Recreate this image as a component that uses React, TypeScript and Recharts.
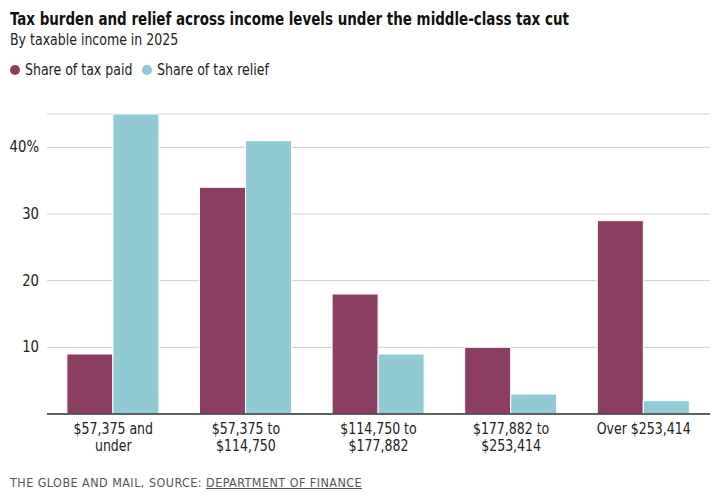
import React from "react";
import { BarChart, Bar, XAxis, YAxis, CartesianGrid } from "recharts";

const categories = [
  "$57,375 and\nunder",
  "$57,375 to\n$114,750",
  "$114,750 to\n$177,882",
  "$177,882 to\n$253,414",
  "Over $253,414",
];
const taxPaid = [9, 34, 18, 10, 29];
const taxRelief = [45, 41, 9, 3, 2];
const yTicks = [10, 20, 30, 40];

const PAID = "#8b3e62";
const RELIEF = "#90cad4";
const FONT = "'DejaVu Sans Condensed', 'Roboto', sans-serif";

const data = categories.map((c, i) => ({ name: c, paid: taxPaid[i], relief: taxRelief[i] }));

const XTick = (props: any) => {
  const { x, y, payload } = props;
  const lines = String(payload.value).split("\n");
  return (
    <g transform={`translate(${x},${y}) scale(0.9,1)`}>
      {lines.map((l: string, i: number) => (
        <text key={i} x={0} y={12 + i * 17} textAnchor="middle" fill="#222" fontSize={15.5} fontFamily={FONT}>
          {l}
        </text>
      ))}
    </g>
  );
};

const YTick = (props: any) => {
  const { x, y, payload } = props;
  return (
    <g transform={`translate(${x},${y}) scale(0.95,1)`}>
      <text x={0} y={0} dy={5} textAnchor="end" fill="#222" fontSize={15.5} fontFamily={FONT}>
        {payload.value === 40 ? "40%" : payload.value}
      </text>
    </g>
  );
};

export default function App() {
  return (
    <div style={{ position: "absolute", left: 0, top: 0, width: 720, height: 496, background: "#fff", fontFamily: FONT }}>
      <div style={{ position: "absolute", left: 10, top: 8, fontSize: 18, fontWeight: 700, color: "#111", whiteSpace: "nowrap", transform: "scaleX(0.83)", transformOrigin: "left center" }}>
        Tax burden and relief across income levels under the middle-class tax cut
      </div>
      <div style={{ position: "absolute", left: 10, top: 31, fontSize: 15.5, color: "#222", whiteSpace: "nowrap", transform: "scaleX(0.9)", transformOrigin: "left center" }}>
        By taxable income in 2025
      </div>
      <div style={{ position: "absolute", left: 10, top: 61, fontSize: 15.5, color: "#222", display: "flex", alignItems: "center", whiteSpace: "nowrap" }}>
        <span style={{ display: "inline-block", width: 10, height: 10, borderRadius: 5, background: PAID, marginRight: 5 }} />
        <span style={{ display: "inline-block", width: 108 }}>
          <span style={{ display: "inline-block", transform: "scaleX(0.9)", transformOrigin: "left center" }}>Share of tax paid</span>
        </span>
        <span style={{ display: "inline-block", width: 10, height: 10, borderRadius: 5, background: RELIEF, marginLeft: 9, marginRight: 5 }} />
        <span style={{ display: "inline-block", transform: "scaleX(0.9)", transformOrigin: "left center" }}>Share of tax relief</span>
      </div>
      <div style={{ position: "absolute", left: 0, top: 0 }}>
        <BarChart width={720} height={496} data={data} margin={{ top: 114, right: 10, bottom: 32, left: 0 }} barCategoryGap="15%" barGap={0}>
          <CartesianGrid vertical={false} stroke="#d0d0d0" strokeWidth={1} />
          <YAxis domain={[0, 45]} ticks={yTicks} width={47} axisLine={false} tickLine={false} tick={<YTick />} interval={0} />
          <XAxis dataKey="name" axisLine={{ stroke: "#333", strokeWidth: 1.5 }} tickLine={false} tick={<XTick />} interval={0} height={50} />
          <Bar dataKey="paid" fill={PAID} stroke="#fff" strokeWidth={1} isAnimationActive={false} />
          <Bar dataKey="relief" fill={RELIEF} stroke="#fff" strokeWidth={1} isAnimationActive={false} />
        </BarChart>
      </div>
      <div style={{ position: "absolute", left: 10, top: 475, fontSize: 13, color: "#555", letterSpacing: 0.5, whiteSpace: "nowrap", transform: "scaleX(0.955)", transformOrigin: "left center" }}>
        THE GLOBE AND MAIL, SOURCE: <span style={{ textDecoration: "underline" }}>DEPARTMENT OF FINANCE</span>
      </div>
    </div>
  );
}
